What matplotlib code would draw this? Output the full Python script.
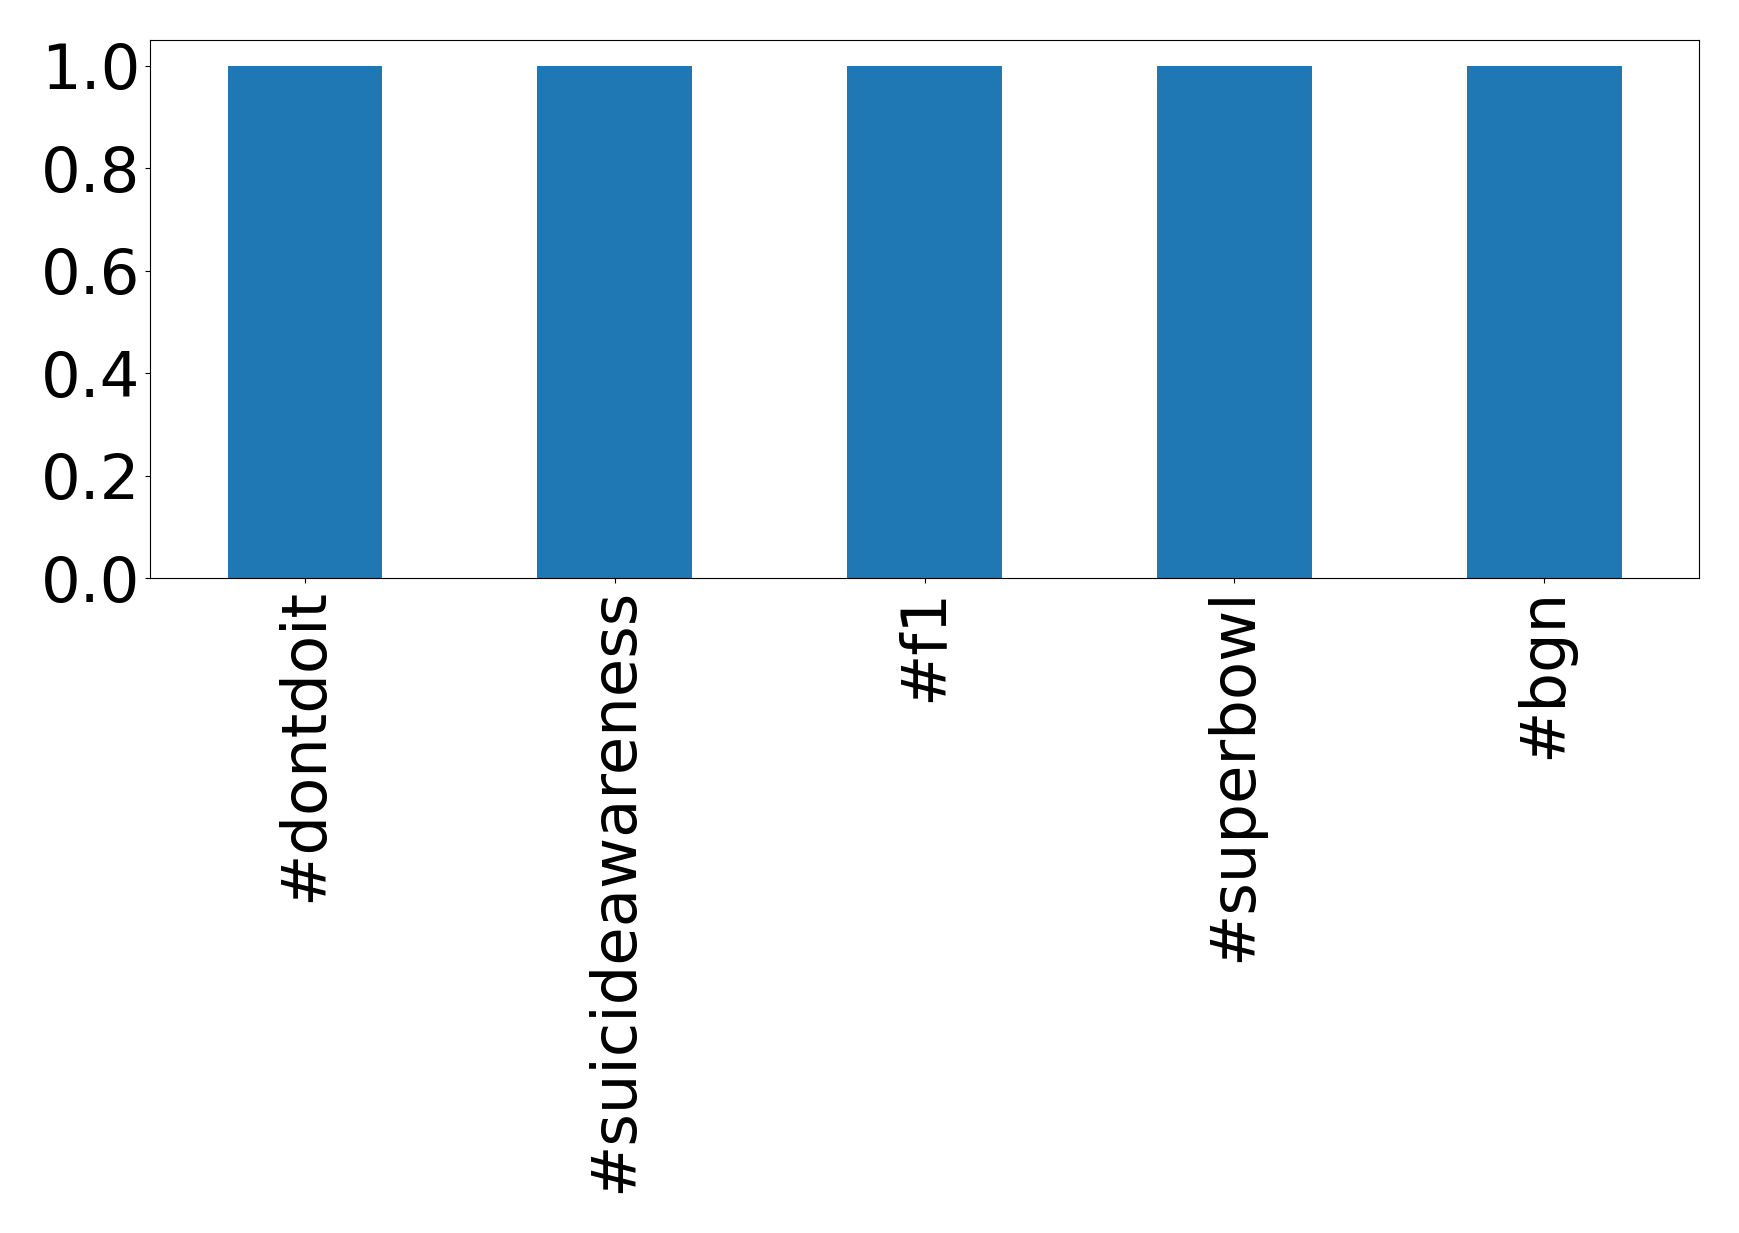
import numpy as np
import matplotlib.pyplot as plt

hashtags = ['#dontdoit', '#suicideawareness', '#f1', '#superbowl', '#bgn']
values = [1.0, 1.0, 1.0, 1.0, 1.0]

fig = plt.figure(figsize=(17.39, 12.33), dpi=100)
ax = fig.add_axes([0.0863, 0.5312, 0.8907, 0.4364])

x = np.arange(len(hashtags))
ax.bar(x, values, width=0.5, color='#1f77b4')
ax.set_xlim(-0.5, len(hashtags) - 0.5)
ax.set_ylim(0, 1.05)
ax.set_xticks(x)
ax.set_xticklabels(hashtags, rotation=90, fontsize=45)
ax.set_yticks([0.0, 0.2, 0.4, 0.6, 0.8, 1.0])
ax.tick_params(axis='y', labelsize=45)

fig.savefig('out.png', dpi=100)
